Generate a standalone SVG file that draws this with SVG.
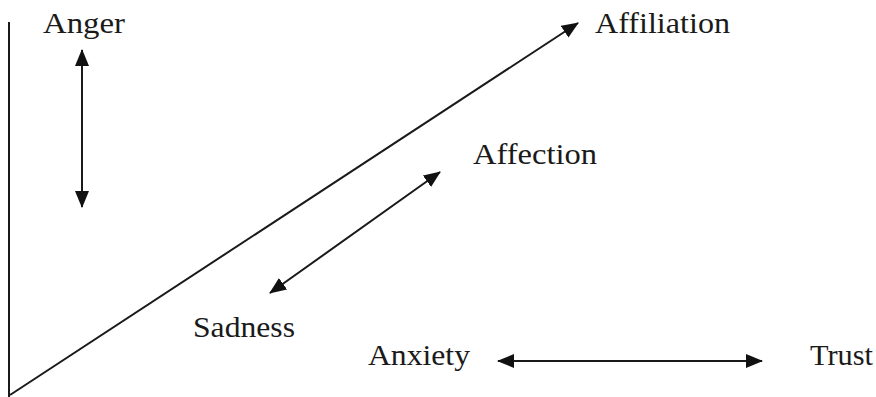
<svg xmlns="http://www.w3.org/2000/svg" width="876" height="397" viewBox="0 0 876 397">
<style>
text{font-family:"Liberation Serif","Times New Roman",serif;font-size:30px;fill:#1a1a1a}
.ln{stroke:#1a1a1a;stroke-width:2;fill:none}
</style>
<defs>
<marker id="ah" viewBox="0 0 17 14" refX="16" refY="7" markerWidth="17" markerHeight="14" markerUnits="userSpaceOnUse" orient="auto-start-reverse">
<path d="M0,0 L17,7 L0,14 Z" fill="#111"/>
</marker>
</defs>
<rect width="876" height="397" fill="#fff"/>
<g id="connectors">
<line class="ln" x1="9" y1="22" x2="9" y2="397"/>
<line class="ln" x1="10" y1="395" x2="578" y2="23" marker-end="url(#ah)"/>
<line class="ln" x1="82" y1="50" x2="82" y2="207" marker-start="url(#ah)" marker-end="url(#ah)"/>
<line class="ln" x1="270" y1="293" x2="440" y2="172" marker-start="url(#ah)" marker-end="url(#ah)"/>
<line class="ln" x1="498" y1="361" x2="762" y2="361" marker-start="url(#ah)" marker-end="url(#ah)"/>
</g>
<g id="anger"><text x="43" y="33" textLength="82" lengthAdjust="spacingAndGlyphs">Anger</text></g>
<g id="affiliation"><text x="595" y="33" textLength="135" lengthAdjust="spacingAndGlyphs">Affiliation</text></g>
<g id="affection"><text x="473" y="164" textLength="124" lengthAdjust="spacingAndGlyphs">Affection</text></g>
<g id="sadness"><text x="193" y="337" textLength="102" lengthAdjust="spacingAndGlyphs">Sadness</text></g>
<g id="anxiety"><text x="368" y="365" textLength="102" lengthAdjust="spacingAndGlyphs">Anxiety</text></g>
<g id="trust"><text x="810" y="365" textLength="63" lengthAdjust="spacingAndGlyphs">Trust</text></g>
</svg>
